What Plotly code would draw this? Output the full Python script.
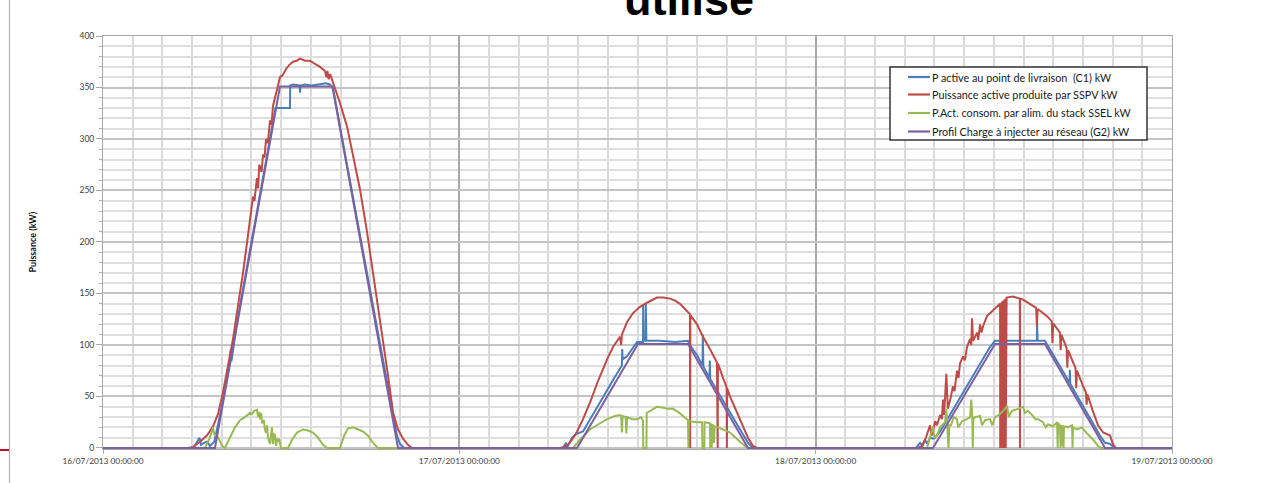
import pandas as pd
import plotly.graph_objects as go

START = pd.Timestamp("2013-07-16 00:00:00")

# ---- Data (hours since 16/07/2013 00:00, power in kW) ----
c1_hours = [0, 6.1, 6.3, 6.5, 6.6, 6.8, 7.0, 7.2, 7.5, 8.0, 8.5, 8.6, 8.65, 9.0, 9.5, 10.0, 10.5, 11.0, 11.5, 11.62,
            12.59, 12.61, 12.8, 13.25, 13.27, 13.3, 13.6, 14.0, 14.5, 15.0, 15.29, 15.5, 16.0, 16.5, 17.0, 17.5,
            18.0, 18.5, 19.0, 19.5, 19.8, 20.0, 20.3,
            30.98, 31.19, 31.25, 31.32, 31.59, 31.93, 32.33, 32.80, 33.34, 33.95, 34.35, 34.82, 34.95, 34.97, 35.0,
            35.29, 35.70, 35.97, 36.37, 36.38, 36.42, 36.55, 36.56, 36.6, 37.51, 38.53, 39.40, 39.54, 40.01, 40.38,
            40.40, 40.44, 40.85, 40.87, 40.9, 41.35, 41.76, 42.23, 42.70, 43.11, 43.44, 43.71, 43.91,
            54.76, 55.03, 55.2, 55.36, 55.5, 55.70, 55.90, 56.04, 56.38, 56.71, 57.05, 57.39, 57.72, 58.06, 58.40,
            58.73, 59.07, 59.41, 59.74, 60.08, 60.75, 61.76, 62.77, 62.9, 62.91, 62.95, 63.44, 63.78, 64.12, 64.46,
            64.79, 65.10, 65.12, 65.15, 65.47, 65.81, 66.14, 66.48, 66.82, 67.15, 67.49, 67.83, 68.04, 68.17, 72]
c1_kw = [0, 0, 5, 10, 3, 5, 6, 2, 6, 40, 80, 95, 84, 120, 160, 200, 240, 280, 320, 330,
         330, 352, 353, 352, 345, 352, 353, 352, 353, 354, 353, 349, 309, 270, 230, 191,
         152, 112, 73, 33, 12, 4, 0,
         0, 5, 1, 2, 10, 14, 16, 28, 41, 56, 66, 78, 80, 96, 86,
         89, 98, 103, 103, 139, 104, 104, 140, 104, 104, 103, 104, 100, 90, 80,
         110, 79, 68, 85, 67, 56, 46, 35, 23, 13, 5, 1, 0,
         0, 5, 2, 8, 4, 10, 9, 10, 16, 24, 33, 41, 49, 57, 65,
         74, 82, 90, 98, 104, 104, 104, 104, 104, 122, 104, 104, 96, 88, 80,
         71, 63, 76, 62, 54, 46, 37, 29, 20, 12, 5, 4, 1, 0, 0]

sspv_hours = [0, 5.72, 6.06, 6.53, 7.00, 7.41, 7.75, 8.08, 8.42, 8.76, 9.09, 9.43, 9.77, 10.10, 10.20, 10.30, 10.37,
              10.45, 10.52, 10.58, 10.68, 10.78, 10.88, 10.98, 11.1, 11.25, 11.35, 11.45, 11.59, 11.75, 11.92, 12.1,
              12.33, 12.55, 12.80, 13.05, 13.27, 13.6, 13.94, 14.28, 14.62, 14.95, 15.05, 15.12, 15.2, 15.3, 15.49,
              15.96, 16.44, 16.84, 17.31, 17.78, 18.19, 18.52, 18.86, 19.20, 19.53, 19.87, 20.21, 20.54, 20.81,
              30.78, 31.25, 31.59, 31.93, 32.33, 32.80, 33.34, 33.95, 34.35, 34.82, 34.9, 34.95, 35.29, 35.70, 36.17,
              36.64, 37.31, 37.72, 38.19, 38.53, 38.86, 39.20, 39.53, 39.545, 39.56, 40.01, 40.41, 40.88, 41.35,
              41.40, 41.42, 41.76, 42.0, 42.02, 42.04, 42.23, 42.70, 43.11, 43.44, 43.78, 44.05,
              54.89, 55.16, 55.43, 55.6, 55.70, 55.8, 55.90, 56.05, 56.17, 56.38, 56.5, 56.58, 56.65, 56.80, 56.9,
              57.05, 57.25, 57.35, 57.52, 57.62, 57.72, 57.92, 58.05, 58.19, 58.40, 58.48, 58.53, 58.6, 58.67,
              58.87, 58.95, 59.07, 59.17, 59.27, 59.54, 59.88, 60.22, 60.42, 60.43, 60.48, 60.5, 60.55, 60.57,
              60.62, 60.64, 60.7, 60.72, 60.78, 60.8, 60.86, 61.29, 61.63, 61.75, 61.76, 61.77, 61.97, 62.30,
              62.64, 62.85, 62.9, 62.95, 63.31, 63.65, 63.9, 63.95, 64.0, 64.32, 64.45, 64.5, 64.55, 64.66, 64.9,
              64.95, 65.0, 65.34, 65.5, 65.55, 65.6, 66.01, 66.2, 66.25, 66.3, 66.69, 67.02, 67.36, 67.63, 67.83,
              68.04, 68.24, 72]
sspv_kw = [0, 0, 1, 6, 12, 21, 33, 54, 80, 106, 138, 170, 207, 244, 240, 258, 262,
           252, 275, 273, 268, 285, 282, 300, 296, 318, 314, 332, 340, 352, 360, 362,
           368, 372, 375, 376, 378, 376, 376, 373, 370, 366, 360, 366, 358, 363, 355,
           335, 312, 283, 251, 210, 170, 138, 106, 70, 35, 18, 9, 3, 0,
           0, 2, 8, 16, 28, 44, 65, 86, 98, 108, 100, 110, 122, 131, 137,
           141, 146, 146, 145, 143, 140, 135, 130, 0, 129, 120, 108, 96, 83,
           0, 82, 68, 59, 0, 58, 50, 35, 21, 10, 2, 0,
           0, 2, 10, 18, 22, 12, 16, 26, 22, 32, 28, 47, 32, 72, 38,
           46, 60, 55, 75, 68, 82, 89, 85, 98, 106, 100, 126, 104, 106,
           112, 105, 120, 112, 118, 128, 133, 138, 140, 0, 141, 0, 142, 0,
           143, 0, 144, 0, 145, 0, 146, 147, 146, 145, 0, 145, 144, 141,
           138, 136, 118, 135, 131, 127, 123, 102, 121, 115, 112, 95, 110, 106, 97,
           78, 95, 83, 78, 58, 75, 60, 54, 42, 52, 35, 22, 15, 13, 12,
           3, 0, 0]

ssel_hours = [0, 6.87, 7.2, 7.41, 7.5, 7.68, 8.02, 8.22, 8.55, 8.89, 9.23, 9.56, 9.90, 10.05, 10.17, 10.37, 10.45,
              10.51, 10.58, 10.65, 10.71, 10.84, 10.9, 10.98, 11.05, 11.11, 11.25, 11.32, 11.38, 11.45, 11.52, 11.59,
              11.65, 11.72, 11.8, 11.86, 11.99, 12.46, 12.73, 13.07, 13.47, 13.81, 14.14, 14.48, 14.82, 15.09,
              15.96, 16.24, 16.50, 16.84, 17.18, 17.51, 17.85, 18.19, 18.52,
              31.66, 32.13, 32.80, 33.48, 33.95, 34.49, 34.82, 34.9, 34.95, 35.0, 35.2, 35.25, 35.3, 35.63, 35.97,
              36.24, 36.37, 36.39, 36.60, 36.62, 36.98, 37.31, 37.72, 38.06, 38.39, 38.73, 39.07, 39.40, 39.43,
              39.46, 40.01, 40.35, 40.37, 40.5, 40.52, 40.88, 40.9, 40.93, 41.0, 41.03, 41.08, 41.15, 41.2, 41.42,
              41.76, 42.23, 42.57, 42.90, 43.24, 43.44,
              55.50, 55.70, 55.90, 56.0, 56.17, 56.38, 56.71, 56.80, 56.88, 56.95, 57.0, 57.11, 57.3, 57.52, 57.6,
              57.86, 58.19, 58.40, 58.48, 58.55, 58.58, 58.62, 58.73, 59.07, 59.2, 59.41, 59.74, 59.9, 60.08, 60.42,
              60.75, 60.89, 61.0, 61.22, 61.63, 61.97, 62.1, 62.30, 62.64, 62.8, 62.98, 63.31, 63.5, 63.65, 63.99,
              64.26, 64.3, 64.33, 64.45, 64.5, 64.53, 64.6, 64.62, 64.66, 64.7, 64.72, 65.00, 65.27, 65.3, 65.33,
              65.60, 65.94, 66.28, 66.69, 67.02, 67.22, 72]
ssel_kw = [0, 0, 10, 20, 13, 12, 2, 0, 10, 20, 27, 30, 34, 33, 36, 37, 30,
           35, 28, 34, 24, 27, 18, 15, 22, 10, 4, 18, 20, 4, 14, 12,
           2, 9, 6, 9, 0, 0, 8, 15, 18, 17, 15, 10, 3, 0,
           0, 12, 19, 20, 18, 16, 12, 5, 0,
           0, 8, 18, 24, 28, 31, 32, 31, 15, 31, 30, 14, 30, 28, 28,
           30, 26, 0, 0, 34, 37, 40, 39, 38, 38, 35, 31, 27, 0,
           26, 25, 25, 0, 0, 25, 24, 0, 24, 0, 23, 22, 5, 21, 20,
           18, 15, 10, 6, 2, 0,
           0, 12, 21, 10, 12, 20, 25, 38, 22, 0, 22, 22, 30, 28, 20,
           26, 28, 30, 47, 30, 0, 28, 30, 31, 22, 27, 28, 22, 30, 33,
           38, 41, 30, 36, 38, 40, 34, 36, 31, 28, 28, 25, 20, 23, 21,
           25, 0, 24, 22, 0, 22, 20, 2, 22, 0, 21, 20, 22, 0, 20,
           18, 20, 14, 8, 2, 0, 0]

g2_hours = [0, 7.54, 11.92, 15.45, 19.87, 31.93, 36.03, 39.40, 43.44, 55.90, 60.08, 63.44, 67.49, 72]
g2_kw = [0, 0, 351, 351, 0, 0, 101, 101, 0, 0, 101, 101, 0, 0]

series_names = [
    "P active au point de livraison\u00a0 (C1) kW",
    "Puissance active produite par SSPV kW",
    "P.Act. consom. par alim. du stack SSEL kW",
    "Profil Charge à injecter au réseau (G2) kW",
]
series_colors = ["#4a7ebb", "#be4b48", "#98b954", "#7d60a0"]
day_ticks = ["16/07/2013 00:00:00", "17/07/2013 00:00:00", "18/07/2013 00:00:00", "19/07/2013 00:00:00"]


def to_dt(hours):
    return [START + pd.Timedelta(hours=h) for h in hours]


fig = go.Figure()
for hrs, vals, name, col in zip([c1_hours, sspv_hours, ssel_hours, g2_hours],
                                [c1_kw, sspv_kw, ssel_kw, g2_kw],
                                series_names, series_colors):
    fig.add_trace(go.Scatter(x=to_dt(hrs), y=vals, mode="lines", name=name,
                             line=dict(color=col, width=2), showlegend=False))

tick_dates = [START + pd.Timedelta(days=d) for d in range(4)]

# plot area in pixels: x 103..1172, y 36..449
PX_L, PX_R, PX_T, PX_B = 103, 1172, 36, 449


def px_x(px):
    return (px - PX_L) / (PX_R - PX_L)


def px_y(py):
    return (PX_B - py) / (PX_B - PX_T)


fig.update_layout(
    width=1277, height=483,
    margin=dict(l=PX_L, r=1277 - PX_R, t=PX_T, b=483 - PX_B),
    paper_bgcolor="white", plot_bgcolor="white",
    font=dict(family="Lato, sans-serif", color="#404040"),
    showlegend=False,
    xaxis=dict(
        type="date",
        range=[START, START + pd.Timedelta(days=3)],
        tickvals=tick_dates, ticktext=day_ticks,
        tickfont=dict(size=8.3, color="#404040"),
        showgrid=True, gridcolor="#a8a8a8", gridwidth=1.5,
        showline=True, linecolor="#a8a8a8", linewidth=1, mirror=True,
        ticks="outside", ticklen=4, tickcolor="#a8a8a8",
        zeroline=False,
        minor=dict(dtick=7200000, tick0=START, showgrid=True, gridcolor="#dadada", gridwidth=1.5, ticks=""),
    ),
    yaxis=dict(
        range=[-1, 400], dtick=50, tick0=0,
        tickfont=dict(size=8.5, color="#404040"),
        showgrid=True, gridcolor="#c4c4c4", gridwidth=1.5,
        showline=True, linecolor="#a8a8a8", linewidth=1, mirror=True,
        ticks="outside", ticklen=6, tickcolor="#a8a8a8",
        zeroline=False,
        minor=dict(dtick=10, tick0=0, showgrid=True, gridcolor="#dedede", gridwidth=1.5,
                   ticks="outside", ticklen=3, tickcolor="#b0b0b0"),
    ),
)

# Legend box (drawn like the Excel legend)
fig.add_shape(type="rect", xref="paper", yref="paper",
              x0=px_x(890), x1=px_x(1147), y0=px_y(140), y1=px_y(67),
              line=dict(color="#333333", width=1.5), fillcolor="white", layer="above")
legend_rows = [77, 94.5, 113, 131.5]
for name, col, ry in zip(series_names, series_colors, legend_rows):
    fig.add_shape(type="line", xref="paper", yref="paper",
                  x0=px_x(908), x1=px_x(930), y0=px_y(ry), y1=px_y(ry),
                  line=dict(color=col, width=2.2), layer="above")
    fig.add_annotation(text=name, xref="paper", yref="paper", x=px_x(930), y=px_y(ry),
                       xanchor="left", yanchor="middle", showarrow=False,
                       font=dict(size=10.8, color="#1a1a1a", family="Lato, sans-serif"))

# Y axis title
fig.add_annotation(text="<b>Puissance (kW)</b>", xref="paper", yref="paper",
                   x=px_x(32), y=0.5, xanchor="center", yanchor="middle", textangle=-90,
                   showarrow=False, font=dict(size=9, color="#111111", family="Lato, sans-serif"))

# Cut-off slide title
fig.add_annotation(text="<b>utilisé</b>", xref="paper", yref="paper",
                   x=px_x(689), y=px_y(27.5), xanchor="center", yanchor="bottom",
                   showarrow=False, font=dict(size=45, color="black", family="Liberation Sans, Arial"))

# Slide artefacts on the left edge
fig.add_shape(type="line", xref="paper", yref="paper", x0=px_x(9.5), x1=px_x(9.5), y0=px_y(-10), y1=px_y(495),
              line=dict(color="#b4b4b4", width=1.2))
fig.add_shape(type="line", xref="paper", yref="paper", x0=px_x(0), x1=px_x(9), y0=px_y(450), y1=px_y(450),
              line=dict(color="#c0102a", width=2))

fig.write_html("out.html", config={"displayModeBar": False},
               post_script="document.body.style.margin='0';document.body.style.overflow='hidden';")
